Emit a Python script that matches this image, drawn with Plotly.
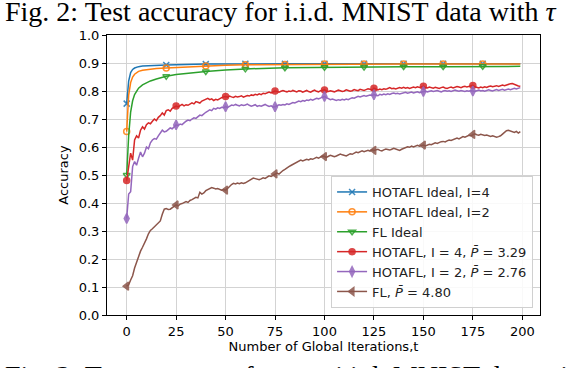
import plotly.graph_objects as go

# ---------------- data ----------------
x_ideal = [0, 1, 2, 3, 4, 5, 6, 8, 10, 12, 15, 20, 25, 30, 40, 50, 60, 80, 100, 120, 140, 160, 180, 199]
hotafl_ideal_i4 = [0.755, 0.835, 0.866, 0.877, 0.882, 0.885, 0.887, 0.889, 0.890, 0.891, 0.892, 0.893,
                   0.894, 0.895, 0.896, 0.896, 0.897, 0.897, 0.897, 0.897, 0.897, 0.897, 0.897, 0.897]
hotafl_ideal_i2 = [0.655, 0.785, 0.830, 0.850, 0.860, 0.866, 0.870, 0.874, 0.876, 0.878, 0.880, 0.882,
                   0.884, 0.886, 0.889, 0.892, 0.894, 0.895, 0.896, 0.896, 0.896, 0.896, 0.896, 0.896]
fl_ideal = [0.500, 0.640, 0.725, 0.765, 0.787, 0.800, 0.810, 0.822, 0.830, 0.836, 0.843, 0.853,
            0.859, 0.863, 0.870, 0.875, 0.879, 0.883, 0.885, 0.886, 0.887, 0.887, 0.888, 0.888]

x_iter = list(range(200))
hotafl_i4 = [
    0.480, 0.540, 0.578, 0.553, 0.625, 0.640, 0.632, 0.660, 0.672, 0.664,
    0.680, 0.686, 0.683, 0.692, 0.700, 0.694, 0.706, 0.712, 0.722, 0.714,
    0.730, 0.733, 0.728, 0.738, 0.742, 0.746, 0.743, 0.748, 0.752, 0.747,
    0.751, 0.749, 0.755, 0.758, 0.754, 0.762, 0.760, 0.757, 0.764, 0.768,
    0.772, 0.774, 0.769, 0.772, 0.766, 0.770, 0.768, 0.773, 0.776, 0.779,
    0.780, 0.778, 0.782, 0.779, 0.777, 0.781, 0.779, 0.780, 0.783, 0.778,
    0.781, 0.784, 0.782, 0.786, 0.784, 0.788, 0.786, 0.790, 0.787, 0.792,
    0.790, 0.794, 0.796, 0.793, 0.797, 0.800, 0.798, 0.796, 0.799, 0.802,
    0.799, 0.797, 0.800, 0.798, 0.802, 0.799, 0.797, 0.801, 0.800, 0.796,
    0.799, 0.802, 0.798, 0.796, 0.800, 0.803, 0.799, 0.797, 0.801, 0.803,
    0.804, 0.800, 0.798, 0.801, 0.799, 0.797, 0.800, 0.803, 0.801, 0.798,
    0.800, 0.804, 0.802, 0.799, 0.801, 0.805, 0.803, 0.801, 0.806, 0.804,
    0.802, 0.805, 0.808, 0.806, 0.803, 0.810, 0.806, 0.804, 0.807, 0.805,
    0.808, 0.806, 0.809, 0.812, 0.808, 0.810, 0.807, 0.809, 0.812, 0.810,
    0.813, 0.810, 0.812, 0.809, 0.811, 0.814, 0.812, 0.815, 0.813, 0.816,
    0.817, 0.813, 0.811, 0.814, 0.812, 0.810, 0.813, 0.811, 0.809, 0.812,
    0.814, 0.811, 0.809, 0.812, 0.814, 0.811, 0.813, 0.816, 0.814, 0.812,
    0.815, 0.817, 0.814, 0.816, 0.819, 0.820, 0.815, 0.813, 0.811, 0.814,
    0.812, 0.815, 0.813, 0.816, 0.818, 0.815, 0.817, 0.819, 0.816, 0.818,
    0.821, 0.819, 0.822, 0.824, 0.826, 0.827, 0.823, 0.820, 0.818, 0.817,
]
hotafl_i2 = [
    0.345, 0.432, 0.440, 0.530, 0.548, 0.535, 0.560, 0.582, 0.565, 0.578,
    0.600, 0.594, 0.615, 0.625, 0.630, 0.628, 0.640, 0.652, 0.660, 0.654,
    0.656, 0.662, 0.668, 0.665, 0.672, 0.679, 0.676, 0.682, 0.680, 0.687,
    0.692, 0.696, 0.694, 0.700, 0.704, 0.702, 0.710, 0.714, 0.712, 0.720,
    0.724, 0.728, 0.733, 0.730, 0.738, 0.735, 0.740, 0.738, 0.742, 0.740,
    0.744, 0.741, 0.746, 0.750, 0.748, 0.752, 0.749, 0.747, 0.751, 0.748,
    0.750, 0.753, 0.749, 0.746, 0.748, 0.751, 0.745, 0.748, 0.746, 0.749,
    0.752, 0.748, 0.745, 0.747, 0.743, 0.744, 0.748, 0.751, 0.749, 0.752,
    0.750, 0.754, 0.752, 0.756, 0.759, 0.757, 0.761, 0.764, 0.762, 0.766,
    0.764, 0.768, 0.766, 0.770, 0.767, 0.771, 0.774, 0.772, 0.776, 0.778,
    0.780, 0.776, 0.772, 0.769, 0.771, 0.768, 0.766, 0.769, 0.767, 0.770,
    0.768, 0.771, 0.769, 0.773, 0.776, 0.774, 0.778, 0.781, 0.779, 0.782,
    0.784, 0.781, 0.783, 0.786, 0.784, 0.787, 0.785, 0.783, 0.788, 0.786,
    0.789, 0.787, 0.790, 0.788, 0.791, 0.793, 0.790, 0.792, 0.789, 0.791,
    0.793, 0.795, 0.792, 0.794, 0.796, 0.793, 0.795, 0.797, 0.794, 0.796,
    0.798, 0.800, 0.797, 0.799, 0.801, 0.798, 0.800, 0.802, 0.799, 0.797,
    0.800, 0.802, 0.799, 0.801, 0.798, 0.800, 0.803, 0.801, 0.799, 0.802,
    0.800, 0.798, 0.801, 0.799, 0.802, 0.800, 0.798, 0.801, 0.803, 0.800,
    0.802, 0.799, 0.801, 0.804, 0.802, 0.800, 0.803, 0.805, 0.802, 0.804,
    0.806, 0.803, 0.805, 0.807, 0.805, 0.808, 0.810, 0.807, 0.810, 0.812,
]
fl = [
    0.103, 0.108, 0.125, 0.140, 0.168, 0.188, 0.212, 0.228, 0.242, 0.255,
    0.272, 0.290, 0.302, 0.308, 0.315, 0.320, 0.326, 0.336, 0.360, 0.378,
    0.380, 0.377, 0.378, 0.384, 0.388, 0.393, 0.390, 0.396, 0.398, 0.402,
    0.405, 0.402, 0.409, 0.412, 0.416, 0.420, 0.418, 0.438, 0.432, 0.436,
    0.444, 0.448, 0.452, 0.455, 0.453, 0.450, 0.452, 0.449, 0.446, 0.448,
    0.446, 0.452, 0.460, 0.466, 0.470, 0.468, 0.471, 0.469, 0.472, 0.470,
    0.472, 0.476, 0.480, 0.486, 0.489, 0.487, 0.484, 0.483, 0.486, 0.490,
    0.488, 0.493, 0.497, 0.495, 0.500, 0.504, 0.507, 0.503, 0.510, 0.516,
    0.520, 0.526, 0.530, 0.534, 0.538, 0.542, 0.546, 0.549, 0.553, 0.550,
    0.552, 0.556, 0.554, 0.558, 0.556, 0.560, 0.563, 0.560, 0.565, 0.568,
    0.566, 0.563, 0.567, 0.570, 0.568, 0.565, 0.568, 0.572, 0.575, 0.572,
    0.570, 0.568, 0.572, 0.576, 0.574, 0.578, 0.582, 0.580, 0.584, 0.586,
    0.583, 0.586, 0.588, 0.585, 0.590, 0.588, 0.590, 0.592, 0.588, 0.586,
    0.590, 0.593, 0.591, 0.589, 0.592, 0.595, 0.593, 0.590, 0.588, 0.592,
    0.596, 0.598, 0.601, 0.599, 0.603, 0.600, 0.604, 0.606, 0.603, 0.605,
    0.607, 0.604, 0.608, 0.610, 0.608, 0.612, 0.615, 0.613, 0.617, 0.619,
    0.620, 0.618, 0.622, 0.625, 0.623, 0.627, 0.630, 0.632, 0.629, 0.634,
    0.637, 0.635, 0.639, 0.642, 0.640, 0.645, 0.647, 0.644, 0.642, 0.645,
    0.643, 0.641, 0.643, 0.640, 0.638, 0.640, 0.637, 0.635, 0.637, 0.640,
    0.646, 0.652, 0.658, 0.660, 0.657, 0.655, 0.652, 0.656, 0.650, 0.655,
]

x_ticks = [0, 25, 50, 75, 100, 125, 150, 175, 200]
y_ticks = [0.0, 0.1, 0.2, 0.3, 0.4, 0.5, 0.6, 0.7, 0.8, 0.9, 1.0]
y_tick_labels = ["0.0", "0.1", "0.2", "0.3", "0.4", "0.5", "0.6", "0.7", "0.8", "0.9", "1.0"]

series = [
    ("HOTAFL Ideal, I=4", x_ideal, hotafl_ideal_i4, 20, "#1f77b4", "x-thin-open", 6),
    ("HOTAFL Ideal, I=2", x_ideal, hotafl_ideal_i2, 20, "#ff7f0e", "circle-open", 6),
    ("FL Ideal", x_ideal, fl_ideal, 20, "#2ca02c", "triangle-down-open", 6),
    ("HOTAFL, I = 4, <i>P̄</i> = 3.29", x_iter, hotafl_i4, 25, "#d62728", "circle", 6),
    ("HOTAFL, I = 2, <i>P̄</i> = 2.76", x_iter, hotafl_i2, 25, "#9467bd", "diamond-tall", 7),
    ("FL, <i>P̄</i> = 4.80", x_iter, fl, 25, "#8c564b", "triangle-left", 7),
]

FONT = "DejaVu Sans"
FS = 13
fig = go.Figure()
for i, (name, xs, ys, every, color, sym, msize) in enumerate(series):
    mx = [x for x in xs if x % every == 0]
    my = [y for x, y in zip(xs, ys) if x % every == 0]
    marker = dict(symbol=sym, size=msize, color=color, opacity=0.85,
                  line=dict(color=color, width=1.5))
    fig.add_trace(go.Scatter(x=xs, y=ys, mode="lines", line=dict(color=color, width=1.5),
                             showlegend=False, legendgroup=str(i), hoverinfo="skip"))
    fig.add_trace(go.Scatter(x=mx, y=my, mode="markers", marker=marker,
                             showlegend=False, legendgroup=str(i)))
    fig.add_trace(go.Scatter(x=[None], y=[None], mode="lines+markers", name=name,
                             line=dict(color=color, width=1.5), marker=marker, legendgroup=str(i)))

axis_common = dict(
    showline=True, linecolor="black", linewidth=1, mirror=True,
    ticks="outside", ticklen=4, tickcolor="black", tickwidth=1,
    showgrid=True, gridcolor="#d3d3d3", gridwidth=1, zeroline=False,
    tickfont=dict(family=FONT, size=FS, color="black"),
)
fig.update_xaxes(range=[-9.95, 208.95], tickvals=x_ticks,
                 title=dict(text="Number of Global Iterations,t", font=dict(family=FONT, size=FS, color="black"), standoff=3),
                 **axis_common)
fig.update_yaxes(range=[0, 1], tickvals=y_ticks, ticktext=y_tick_labels,
                 title=dict(text="Accuracy", font=dict(family=FONT, size=FS, color="black"), standoff=7),
                 **axis_common)

fig.update_layout(
    width=570, height=368,
    margin=dict(l=107, r=30, t=35, b=53),
    plot_bgcolor="white", paper_bgcolor="white",
    font=dict(family=FONT, size=FS, color="black"),
    legend=dict(x=0.984, y=0.025, xanchor="right", yanchor="bottom",
                bgcolor="rgba(255,255,255,0.85)", bordercolor="#d0d0d0", borderwidth=1,
                font=dict(family=FONT, size=FS, color="#222"), itemwidth=30, tracegroupgap=0),
    annotations=[
        dict(text="Fig. 2: Test accuracy for i.i.d. MNIST data with <i>τ</i>", xref="paper", yref="paper",
             x=-0.240, y=1.147, xanchor="left", yanchor="top", showarrow=False,
             font=dict(family="Liberation Serif", size=28, color="black")),
        dict(text="Fig. 3: Test accuracy for non-i.i.d. MNIST data with <i>τ</i>", xref="paper", yref="paper",
             x=-0.240, y=-0.153, xanchor="left", yanchor="top", showarrow=False,
             font=dict(family="Liberation Serif", size=28, color="black")),
    ],
)

fig.write_html("out.html", config={"displayModeBar": False},
               post_script="document.body.style.margin='0';")
